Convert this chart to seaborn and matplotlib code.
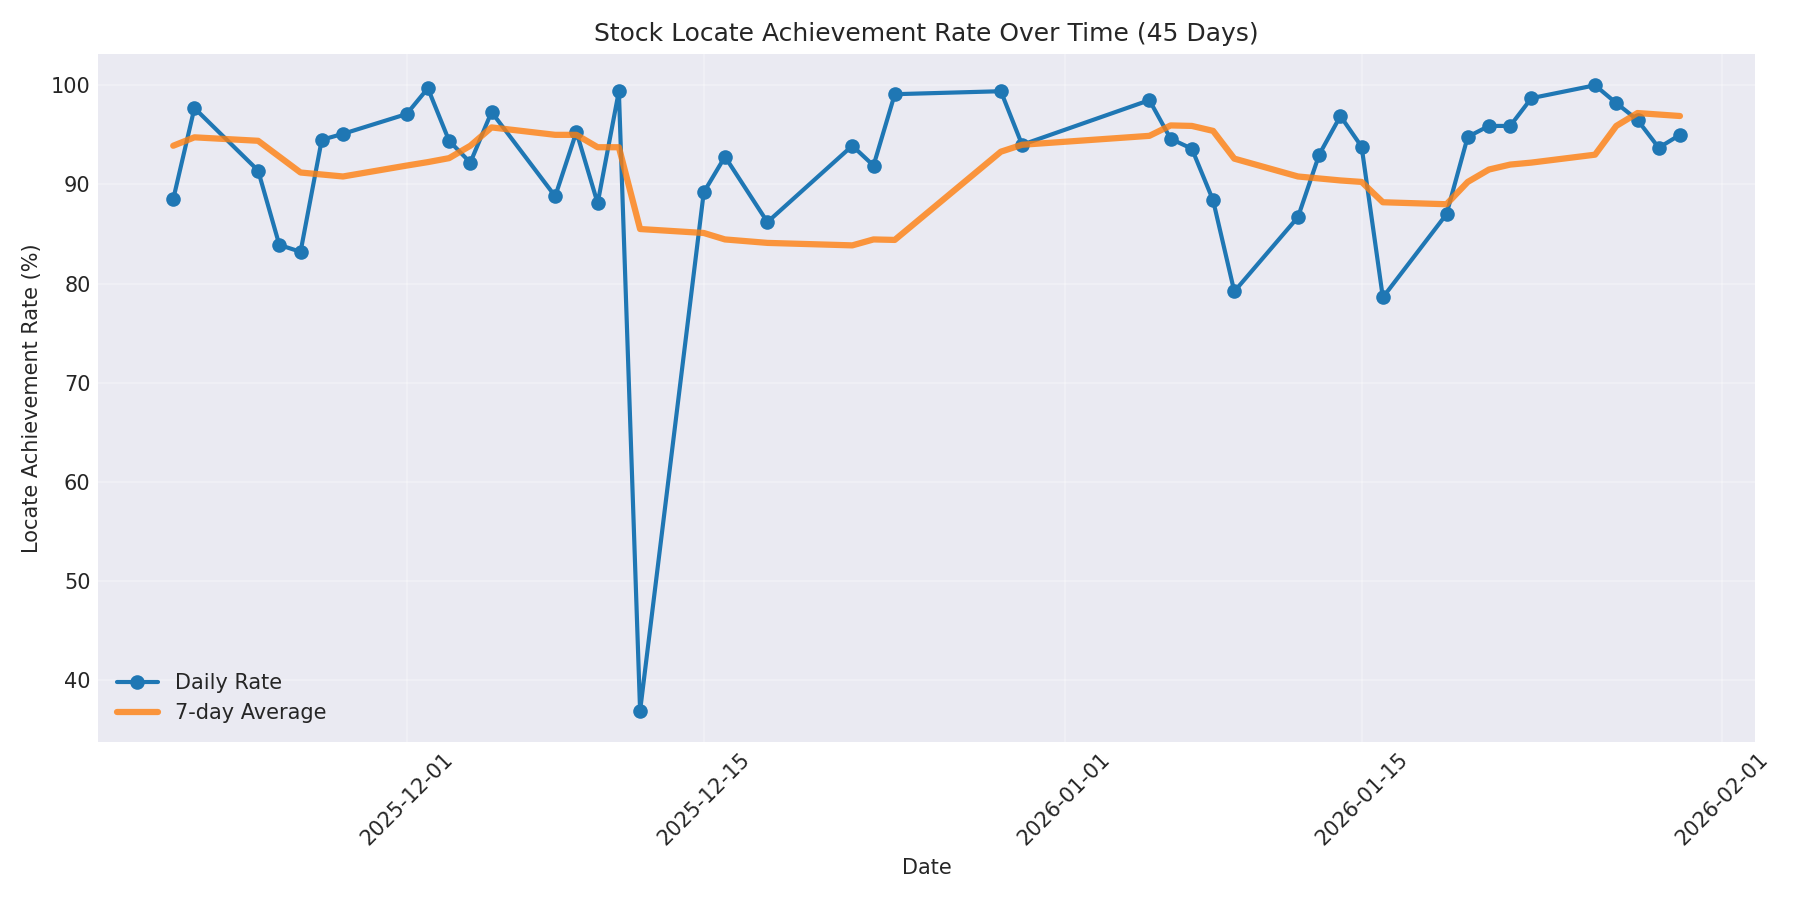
import matplotlib
matplotlib.use("Agg")
import matplotlib.pyplot as plt
import seaborn as sns
import pandas as pd

dates = ["2025-11-20", "2025-11-21", "2025-11-24", "2025-11-25", "2025-11-26", "2025-11-27", "2025-11-28",
         "2025-12-01", "2025-12-02", "2025-12-03", "2025-12-04", "2025-12-05",
         "2025-12-08", "2025-12-09", "2025-12-10", "2025-12-11", "2025-12-12",
         "2025-12-15", "2025-12-16", "2025-12-18",
         "2025-12-22", "2025-12-23", "2025-12-24",
         "2025-12-29", "2025-12-30",
         "2026-01-05", "2026-01-06", "2026-01-07", "2026-01-08", "2026-01-09",
         "2026-01-12", "2026-01-13", "2026-01-14", "2026-01-15", "2026-01-16",
         "2026-01-19", "2026-01-20", "2026-01-21", "2026-01-22", "2026-01-23",
         "2026-01-26", "2026-01-27", "2026-01-28", "2026-01-29", "2026-01-30"]

daily_rate = [88.5, 97.7, 91.4, 83.9, 83.2, 94.5, 95.1,
              97.1, 99.7, 94.4, 92.2, 97.3,
              88.8, 95.3, 88.1, 99.4, 36.9,
              89.2, 92.8, 86.2,
              93.9, 91.9, 99.1,
              99.4, 94.0,
              98.5, 94.6, 93.6, 88.4, 79.2,
              86.7, 93.0, 96.9, 93.8, 78.6,
              87.0, 94.8, 95.9, 95.9, 98.7,
              100.0, 98.2, 96.5, 93.7, 95.0]

avg_7day = [93.9, 94.75, 94.4, 92.8, 91.2, 91.0, 90.8,
            91.9, 92.25, 92.65, 93.9, 95.75,
            95.0, 95.0, 93.75, 93.75, 85.5,
            85.1, 84.45, 84.1,
            83.85, 84.45, 84.4,
            93.3, 94.0,
            94.9, 95.95, 95.9, 95.4, 92.6,
            90.8, 90.6, 90.4, 90.25, 88.2,
            88.0, 90.25, 91.5, 92.0, 92.2,
            93.0, 95.9, 97.2, 97.05, 96.9]

df = pd.DataFrame({"date": pd.to_datetime(dates), "daily": daily_rate, "avg": avg_7day})

plt.style.use("seaborn-v0_8-darkgrid")
plt.rcParams["font.family"] = ["DejaVu Sans"]

fig, ax = plt.subplots(figsize=(12, 6), dpi=150)
sns.lineplot(data=df, x="date", y="daily", ax=ax, color="#1f77b4", linewidth=2,
             marker="o", markersize=7, markeredgewidth=0, label="Daily Rate")
sns.lineplot(data=df, x="date", y="avg", ax=ax, color="#ff7f0e", linewidth=3,
             alpha=0.8, label="7-day Average")

ax.set_title("Stock Locate Achievement Rate Over Time (45 Days)", fontsize=12)
ax.set_xlabel("Date", fontsize=10)
ax.set_ylabel("Locate Achievement Rate (%)", fontsize=10)
ax.tick_params(axis="both", labelsize=10)
plt.setp(ax.get_xticklabels(), rotation=45)
ax.grid(True, alpha=0.3)
ax.legend(loc="lower left", frameon=False, fontsize=10)

fig.tight_layout()
fig.savefig("out.png", dpi=150)
